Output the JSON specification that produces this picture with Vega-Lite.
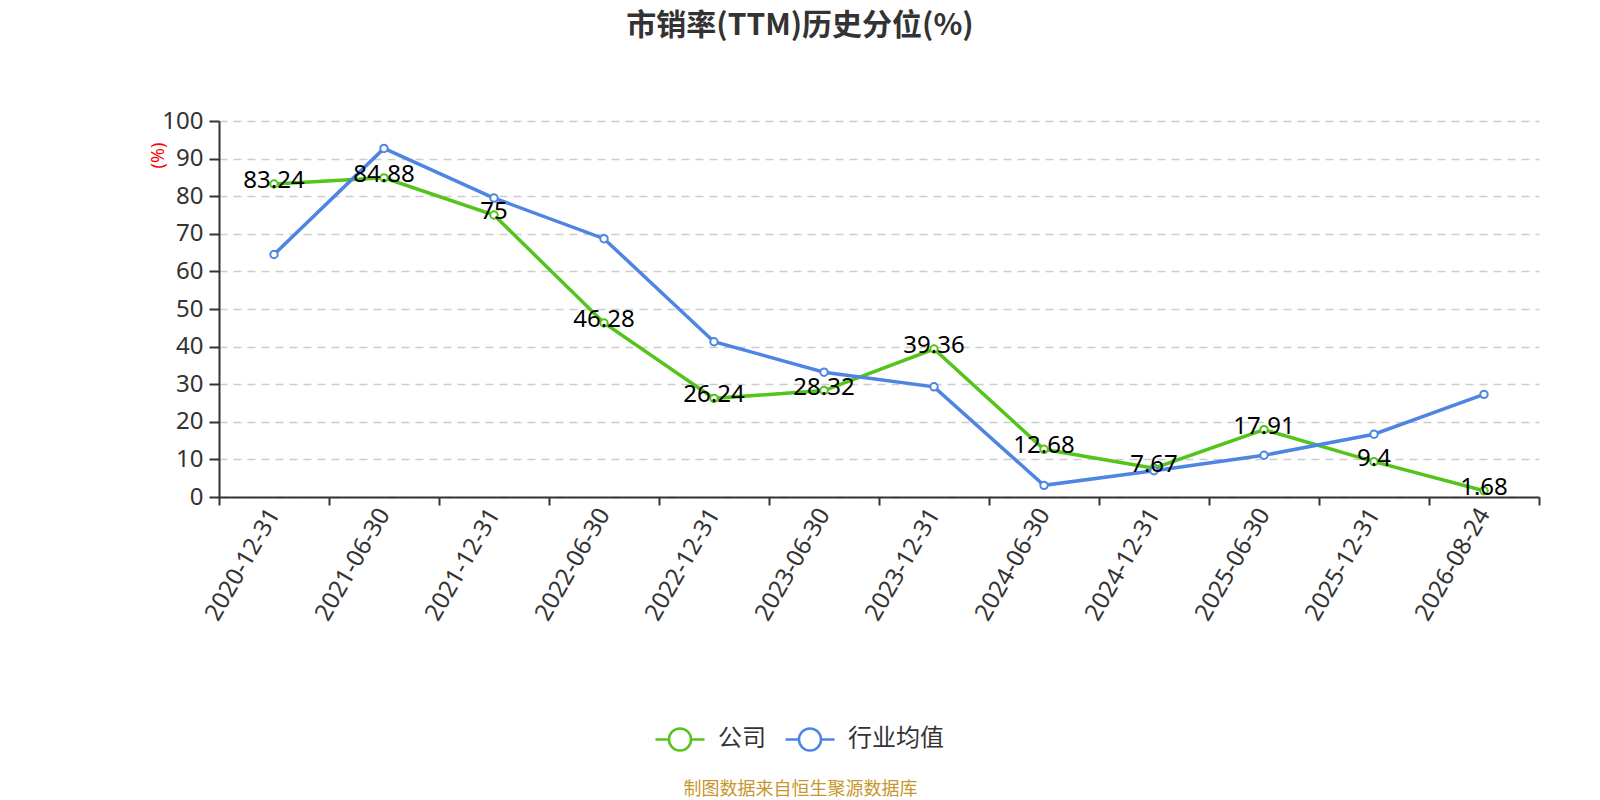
{
  "$schema": "https://vega.github.io/schema/vega-lite/v6.json",
  "autosize": {"type": "none"},
  "width": 1320,
  "height": 376,
  "padding": {"left": 219, "top": 121, "right": 61, "bottom": 303},
  "background": "white",
  "title": {
    "text": "市销率(TTM)历史分位(%)",
    "fontSize": 30,
    "fontWeight": "bold",
    "color": "#333333",
    "font": "Noto Sans CJK SC",
    "anchor": "middle",
    "frame": "group",
    "dx": -79,
    "offset": 68
  },
  "config": {
    "font": "Noto Sans, Noto Sans CJK SC",
    "view": {"stroke": null}
  },
  "data": {
    "values": [
      {"date": "2020-12-31", "series": "公司", "value": 83.24},
      {"date": "2021-06-30", "series": "公司", "value": 84.88},
      {"date": "2021-12-31", "series": "公司", "value": 75},
      {"date": "2022-06-30", "series": "公司", "value": 46.28},
      {"date": "2022-12-31", "series": "公司", "value": 26.24},
      {"date": "2023-06-30", "series": "公司", "value": 28.32},
      {"date": "2023-12-31", "series": "公司", "value": 39.36},
      {"date": "2024-06-30", "series": "公司", "value": 12.68},
      {"date": "2024-12-31", "series": "公司", "value": 7.67},
      {"date": "2025-06-30", "series": "公司", "value": 17.91},
      {"date": "2025-12-31", "series": "公司", "value": 9.4},
      {"date": "2026-08-24", "series": "公司", "value": 1.68},
      {"date": "2020-12-31", "series": "行业均值", "value": 64.5},
      {"date": "2021-06-30", "series": "行业均值", "value": 92.7},
      {"date": "2021-12-31", "series": "行业均值", "value": 79.5},
      {"date": "2022-06-30", "series": "行业均值", "value": 68.7},
      {"date": "2022-12-31", "series": "行业均值", "value": 41.3},
      {"date": "2023-06-30", "series": "行业均值", "value": 33.2},
      {"date": "2023-12-31", "series": "行业均值", "value": 29.3},
      {"date": "2024-06-30", "series": "行业均值", "value": 3.1},
      {"date": "2024-12-31", "series": "行业均值", "value": 7.0},
      {"date": "2025-06-30", "series": "行业均值", "value": 11.1},
      {"date": "2025-12-31", "series": "行业均值", "value": 16.7},
      {"date": "2026-08-24", "series": "行业均值", "value": 27.3}
    ]
  },
  "encoding": {
    "x": {
      "field": "date",
      "type": "ordinal",
      "bandPosition": 0.5,
      "scale": {"type": "band", "paddingInner": 0, "paddingOuter": 0},
      "axis": {
        "title": "制图数据来自恒生聚源数据库",
        "titleFont": "Noto Sans CJK SC",
        "titleFontSize": 18,
        "titleFontWeight": "normal",
        "titleColor": "#c8962e",
        "titleX": 581,
        "titleY": 292,
        "titleAlign": "center",
        "titleBaseline": "middle",
        "titleAngle": 0,
        "labelAngle": -60,
        "labelFontSize": 24,
        "labelColor": "#333333",
        "labelPadding": 5,
        "tickBand": "extent",
        "tickSize": 8,
        "tickWidth": 2,
        "tickColor": "#333333",
        "domainColor": "#333333",
        "domainWidth": 2,
        "grid": false,
        "labelOverlap": false
      }
    },
    "y": {
      "field": "value",
      "type": "quantitative",
      "scale": {"domain": [0, 100], "nice": false},
      "axis": {
        "title": "(%)",
        "titleColor": "#ff0000",
        "titleFontSize": 18,
        "titleFontWeight": "normal",
        "titleX": -61,
        "titleY": 34,
        "titleAngle": -90,
        "titleAlign": "center",
        "titleBaseline": "middle",
        "values": [0, 10, 20, 30, 40, 50, 60, 70, 80, 90, 100],
        "labelFontSize": 24,
        "labelColor": "#333333",
        "labelPadding": 6,
        "tickSize": 10,
        "tickWidth": 2,
        "tickColor": "#333333",
        "domainColor": "#333333",
        "domainWidth": 2,
        "grid": true,
        "gridColor": "#cccccc",
        "gridDash": [8, 6],
        "gridWidth": 1.5
      }
    },
    "color": {
      "field": "series",
      "type": "nominal",
      "scale": {"domain": ["公司", "行业均值"], "range": ["#52c41a", "#4e85e2"]},
      "legend": {
        "title": null,
        "orient": "none",
        "direction": "horizontal",
        "legendX": 435,
        "legendY": 592,
        "padding": 0,
        "symbolType": "M-1,0L-0.45,0M0.45,0L1,0M0.45,0A0.45,0.45,0,1,1,-0.45,0A0.45,0.45,0,1,1,0.45,0Z",
        "symbolSize": 2401,
        "symbolStrokeWidth": 2.5,
        "symbolFillColor": "#ffffff",
        "labelFontSize": 24,
        "labelColor": "#333333",
        "labelFont": "Noto Sans CJK SC",
        "labelOffset": 12,
        "columnPadding": 14
      }
    }
  },
  "layer": [
    {
      "mark": {"type": "line", "strokeWidth": 3.5},
      "encoding": {"order": {"field": "date"}}
    },
    {
      "mark": {"type": "point", "filled": false, "fill": "#ffffff", "fillOpacity": 1, "opacity": 1, "strokeWidth": 2, "size": 55}
    },
    {
      "transform": [{"filter": "datum.series === '公司'"}],
      "mark": {"type": "text", "fontSize": 24, "baseline": "middle", "align": "center", "dy": -3},
      "encoding": {
        "text": {"field": "value", "type": "quantitative"},
        "color": {"value": "#000000"}
      }
    }
  ]
}
